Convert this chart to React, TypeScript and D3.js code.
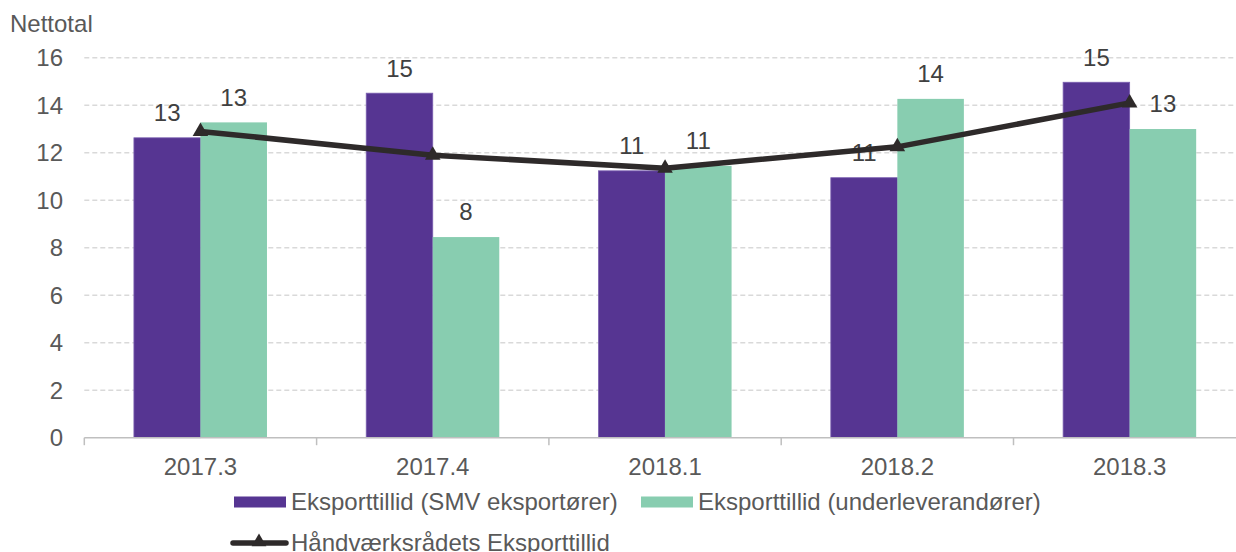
import React from "react";
import * as d3 from "d3";

const categories = ["2017.3", "2017.4", "2018.1", "2018.2", "2018.3"];
const smvValues = [12.63, 14.51, 11.24, 10.95, 14.97];
const underValues = [13.28, 8.45, 11.45, 14.27, 13.0];
const hvrValues = [12.9, 11.9, 11.35, 12.25, 14.1];
const yTicks = [0, 2, 4, 6, 8, 10, 12, 14, 16];
const seriesNames = [
  "Eksporttillid (SMV eksportører)",
  "Eksporttillid (underleverandører)",
  "Håndværksrådets Eksporttillid",
];

const W = 1236;
const H = 552;
const PURPLE = "#563592";
const GREEN = "#88cdb0";
const LINE = "#2e2a2a";
const TEXT = "#595959";
const FONT = "'Liberation Sans', Arial, sans-serif";
const FS = 24;

export default function App() {
  const x = d3.scaleBand<string>().domain(categories).range([84.3, 1245.8]).paddingInner(0).paddingOuter(0);
  const sub = d3.scaleBand<string>().domain(["smv", "under"]).range([0, x.bandwidth()]).paddingInner(0).paddingOuter(0.746);
  const y = d3.scaleLinear().domain([0, 16]).range([437.7, 57.8]);
  const line = d3
    .line<number>()
    .x((_, i) => (x(categories[i]) as number) + x.bandwidth() / 2)
    .y((d) => y(d));
  const tri = d3.symbol().type(d3.symbolTriangle).size(105)();
  const triLegend = d3.symbol().type(d3.symbolTriangle).size(95)();

  const boundaries = categories.map((c) => x(c) as number).concat([(x(categories[categories.length - 1]) as number) + x.bandwidth()]);

  return (
    <svg width={W} height={H} style={{ position: "absolute", left: 0, top: 0, background: "#fff" }} fontFamily={FONT}>
      <text x={10} y={32} fontSize={FS} fill={TEXT}>Nettotal</text>
      {yTicks.map((t) => (
        <g key={t}>
          {t > 0 && (
            <line x1={84.3} x2={W} y1={y(t)} y2={y(t)} stroke="#d9d9d9" strokeWidth={1.5} strokeDasharray="5,3" />
          )}
          <text x={63} y={y(t)} dy="0.35em" textAnchor="end" fontSize={FS} fill={TEXT}>{t}</text>
        </g>
      ))}
      {categories.map((c, i) => {
        const x0 = x(c) as number;
        const xs = x0 + (sub("smv") as number);
        const xu = x0 + (sub("under") as number);
        const bw = sub.bandwidth();
        return (
          <g key={c}>
            <rect x={xs} y={y(smvValues[i])} width={bw} height={y(0) - y(smvValues[i])} fill={PURPLE} stroke="#7a5fb0" strokeWidth={0.8} />
            <rect x={xu} y={y(underValues[i])} width={bw} height={y(0) - y(underValues[i])} fill={GREEN} />
            <text x={xs + bw / 2} y={y(smvValues[i]) - 25} dy="0.35em" textAnchor="middle" fontSize={FS} fill="#404040">{Math.round(smvValues[i])}</text>
            <text x={xu + bw / 2} y={y(underValues[i]) - 25} dy="0.35em" textAnchor="middle" fontSize={FS} fill="#404040">{Math.round(underValues[i])}</text>
            <text x={x0 + x.bandwidth() / 2} y={466.5} dy="0.35em" textAnchor="middle" fontSize={FS} fill={TEXT}>{c}</text>
          </g>
        );
      })}
      <line x1={84.3} x2={W} y1={y(0)} y2={y(0)} stroke="#bfbfbf" strokeWidth={1.5} />
      {boundaries.map((b, i) => (
        <line key={i} x1={b} x2={b} y1={y(0)} y2={y(0) + 7.5} stroke="#bfbfbf" strokeWidth={1.5} />
      ))}
      <path d={line(hvrValues) || ""} fill="none" stroke={LINE} strokeWidth={5.5} strokeLinejoin="round" />
      {hvrValues.map((v, i) => (
        <path key={i} d={tri || ""} transform={`translate(${(x(categories[i]) as number) + x.bandwidth() / 2},${y(v)})`} fill={LINE} />
      ))}
      {/* legend */}
      <rect x={234} y={496.5} width={52} height={11} fill={PURPLE} />
      <text x={291} y={502} dy="0.35em" fontSize={FS} fill={TEXT}>{seriesNames[0]}</text>
      <rect x={641} y={496.5} width={52} height={11} fill={GREEN} />
      <text x={698} y={502} dy="0.35em" fontSize={FS} fill={TEXT}>{seriesNames[1]}</text>
      <line x1={233} x2={286} y1={543} y2={543} stroke={LINE} strokeWidth={5.5} strokeLinecap="round" />
      <path d={triLegend || ""} transform="translate(259,542)" fill={LINE} />
      <text x={291} y={542.5} dy="0.35em" fontSize={FS} fill={TEXT}>{seriesNames[2]}</text>
    </svg>
  );
}
